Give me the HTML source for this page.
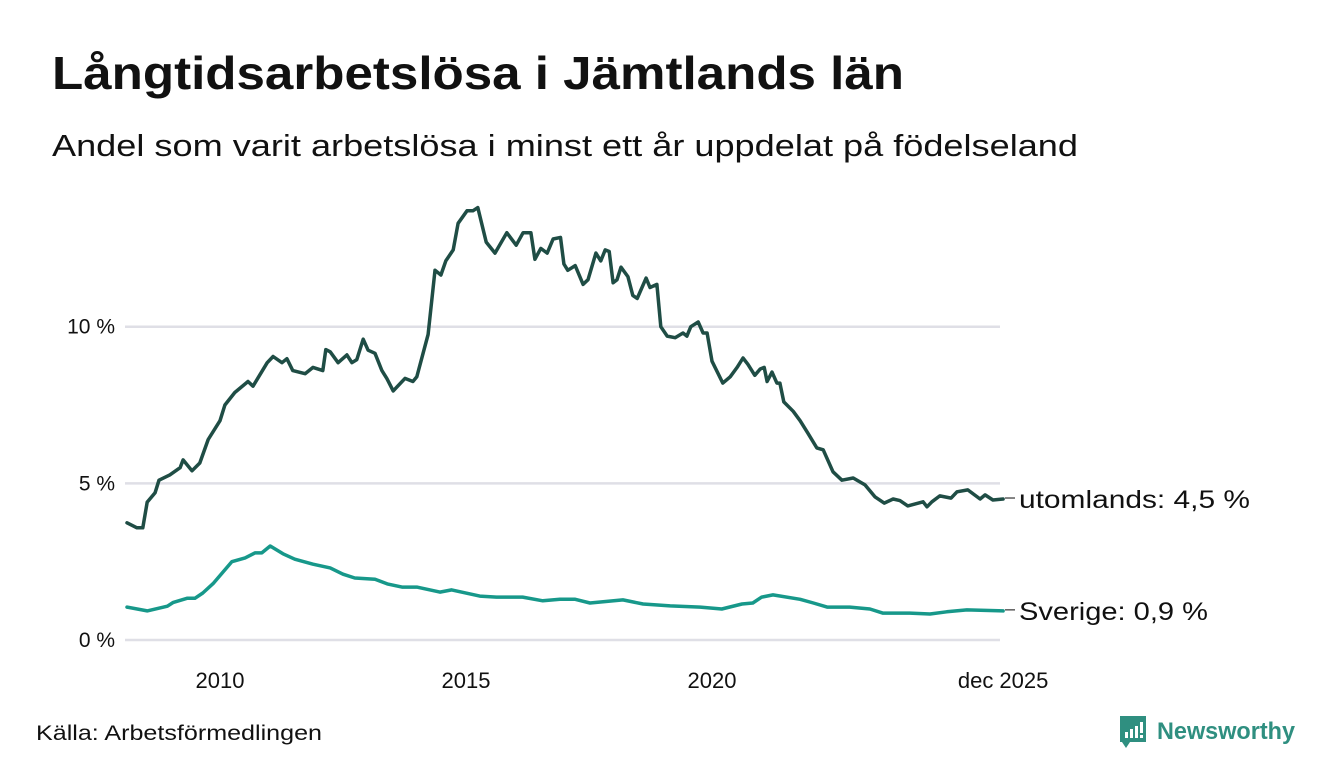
<!DOCTYPE html>
<html><head><meta charset="utf-8"><style>
html,body{margin:0;padding:0;background:#fff;}
svg{display:block;font-family:"Liberation Sans","DejaVu Sans",sans-serif;}
</style></head><body>
<svg id="chart" width="1340" height="780" viewBox="0 0 1340 780">
<text x="52" y="89" font-size="46" font-weight="bold" fill="#111" textLength="852" lengthAdjust="spacingAndGlyphs">Långtidsarbetslösa i Jämtlands län</text>
<text x="52" y="156" font-size="31" fill="#111" textLength="1026" lengthAdjust="spacingAndGlyphs">Andel som varit arbetslösa i minst ett år uppdelat på födelseland</text>
<g id="grid"></g>
<g id="yaxis"></g>
<g id="xaxis"></g>
<g id="series"></g>
<g id="labels"></g>
<text x="36" y="740" font-size="21" fill="#111" textLength="286" lengthAdjust="spacingAndGlyphs">Källa: Arbetsförmedlingen</text>
<g>
<path d="M1120 716 h26 v26 h-16 l-4 6 l-4 -6 h-2 z" fill="#2f8f80"/>
<rect x="1125" y="732" width="3" height="6" fill="#fff"/><rect x="1130" y="729" width="3" height="9" fill="#fff"/><rect x="1135" y="726" width="3" height="12" fill="#fff"/><rect x="1140" y="722" width="3" height="11" fill="#fff"/><rect x="1140" y="735" width="3" height="3" fill="#fff"/>
<text x="1157" y="739" font-size="24" font-weight="bold" fill="#2f8f80" textLength="138" lengthAdjust="spacingAndGlyphs">Newsworthy</text>
</g>
</svg>
<script>
const yTicks = [0, 5, 10];
const yTickLabels = ["0 %", "5 %", "10 %"];
const xTicks = [2010, 2015, 2020, 2025.917];
const xTickLabels = ["2010", "2015", "2020", "dec 2025"];
const utlDates = [2008.11,2008.31,2008.43,2008.52,2008.68,2008.76,2008.98,2009.19,2009.25,2009.43,2009.59,2009.76,2010.0,2010.10,2010.30,2010.57,2010.67,2010.96,2011.08,2011.26,2011.36,2011.48,2011.73,2011.89,2012.09,2012.15,2012.24,2012.40,2012.58,2012.68,2012.78,2012.91,2013.01,2013.15,2013.29,2013.39,2013.52,2013.76,2013.92,2014.0,2014.23,2014.37,2014.49,2014.59,2014.74,2014.84,2015.02,2015.14,2015.24,2015.41,2015.59,2015.83,2016.02,2016.16,2016.32,2016.40,2016.52,2016.65,2016.77,2016.92,2016.99,2017.07,2017.22,2017.38,2017.48,2017.64,2017.74,2017.83,2017.91,2017.99,2018.07,2018.15,2018.29,2018.39,2018.48,2018.66,2018.74,2018.88,2018.96,2019.09,2019.25,2019.41,2019.49,2019.57,2019.72,2019.82,2019.90,2020.0,2020.22,2020.37,2020.51,2020.63,2020.73,2020.87,2020.98,2021.06,2021.12,2021.22,2021.32,2021.38,2021.46,2021.65,2021.79,2021.95,2022.13,2022.26,2022.46,2022.64,2022.87,2023.11,2023.31,2023.50,2023.68,2023.82,2023.98,2024.29,2024.37,2024.47,2024.63,2024.86,2024.98,2025.20,2025.45,2025.55,2025.71,2025.917];
const utlValues = [3.74,3.58,3.58,4.4,4.7,5.1,5.27,5.5,5.75,5.4,5.65,6.4,7.0,7.5,7.9,8.25,8.1,8.85,9.05,8.85,8.98,8.6,8.5,8.7,8.6,9.27,9.2,8.85,9.1,8.85,8.95,9.6,9.25,9.15,8.6,8.35,7.95,8.35,8.25,8.4,9.75,11.8,11.65,12.1,12.45,13.3,13.7,13.7,13.8,12.7,12.35,13.0,12.6,13.0,13.0,12.15,12.5,12.35,12.8,12.85,12.0,11.8,11.95,11.35,11.5,12.35,12.1,12.45,12.4,11.4,11.5,11.9,11.6,11.0,10.9,11.55,11.25,11.35,10.0,9.7,9.65,9.8,9.7,10.0,10.15,9.8,9.8,8.9,8.2,8.4,8.7,9.0,8.8,8.45,8.65,8.7,8.25,8.55,8.2,8.2,7.6,7.3,7.0,6.6,6.13,6.07,5.37,5.1,5.17,4.95,4.57,4.37,4.5,4.45,4.28,4.41,4.25,4.41,4.6,4.53,4.73,4.79,4.5,4.63,4.47,4.5];
const sveDates = [2008.11,2008.52,2008.93,2009.05,2009.33,2009.49,2009.65,2009.86,2010.24,2010.51,2010.71,2010.85,2011.02,2011.28,2011.52,2011.89,2012.24,2012.50,2012.74,2013.15,2013.40,2013.70,2014.00,2014.47,2014.71,2015.28,2015.62,2016.15,2016.56,2016.91,2017.22,2017.52,2018.19,2018.60,2019.15,2019.76,2020.20,2020.61,2020.83,2021.01,2021.24,2021.79,2022.06,2022.34,2022.80,2023.21,2023.47,2024.02,2024.43,2024.77,2025.18,2025.917];
const sveValues = [1.05,0.93,1.08,1.2,1.33,1.33,1.5,1.8,2.5,2.62,2.78,2.78,3.0,2.75,2.58,2.42,2.3,2.1,1.98,1.94,1.79,1.69,1.69,1.53,1.6,1.4,1.37,1.37,1.25,1.3,1.3,1.18,1.28,1.15,1.09,1.05,0.99,1.15,1.18,1.37,1.44,1.3,1.18,1.05,1.05,0.99,0.86,0.86,0.83,0.9,0.96,0.93];

const NS = "http://www.w3.org/2000/svg";
const x = t => 220 + (t - 2010) * 49.2;
const y = v => 640 - v * 31.33;
function mk(tag, attrs, parent){const e=document.createElementNS(NS,tag);for(const k in attrs)e.setAttribute(k,attrs[k]);parent.appendChild(e);return e;}
const grid=document.getElementById('grid'), ya=document.getElementById('yaxis'), xa=document.getElementById('xaxis'), ser=document.getElementById('series'), lab=document.getElementById('labels');
yTicks.forEach((v,i)=>{
  const l=mk('line',{x1:125,x2:1000,y1:y(v),y2:y(v),stroke:'#dfdfe6','stroke-width':2.5},grid);
  
  
  const t=mk('text',{x:115,y:y(v)+7,'font-size':21,'text-anchor':'end',fill:'#111'},ya);
  t.textContent=yTickLabels[i];
  
  
});
xTicks.forEach((v,i)=>{
  const t=mk('text',{x:x(v),y:688,'font-size':22,'text-anchor':'middle',fill:'#111'},xa);
  t.textContent=xTickLabels[i];
  
  
});
function line(d,v,color,name){
  const n=Math.min(d.length,v.length);
  const pts=[];
  for(let i=0;i<n;i++) pts.push((i?'L':'M')+x(d[i]).toFixed(1)+' '+y(v[i]).toFixed(1));
  const p=mk('path',{d:pts.join(' '),fill:'none',stroke:color,'stroke-width':3.5,'stroke-linejoin':'round','stroke-linecap':'round'},ser);
  
  
}
line(sveDates,sveValues,'#17988a','line-sverige');
line(utlDates,utlValues,'#1f4d45','line-utomlands');
function endLabel(v,txt,name,len){
  const yy=y(v);
  mk('line',{x1:1005,x2:1015,y1:yy-1,y2:yy-1,stroke:'#333','stroke-width':1.2},lab);
  const t=mk('text',{x:1019,y:yy+9,'font-size':25,fill:'#111',textLength:len,lengthAdjust:'spacingAndGlyphs'},lab);
  t.textContent=txt;
  
  
}
endLabel(4.5,'utomlands: 4,5 %','label-utomlands',231);
endLabel(0.93,'Sverige: 0,9 %','label-sverige',189);
</script>
</body></html>
